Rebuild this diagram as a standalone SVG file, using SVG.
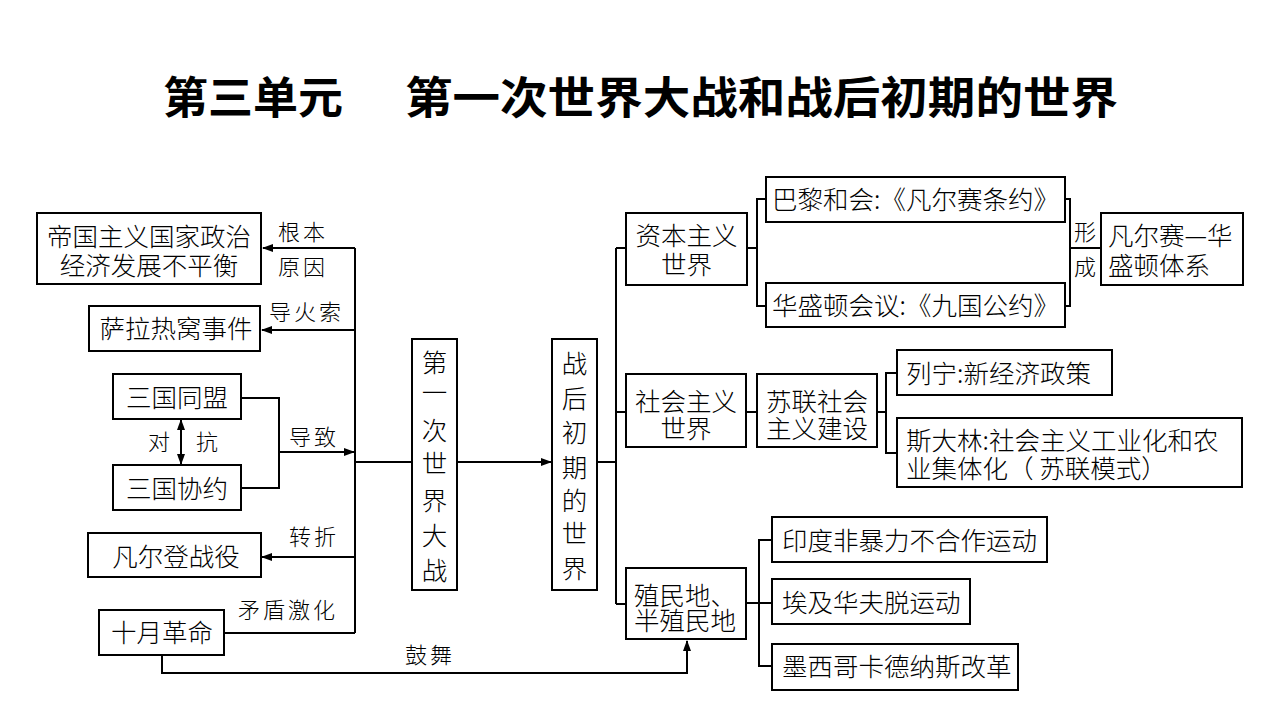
<svg xmlns="http://www.w3.org/2000/svg" width="1280" height="720" viewBox="0 0 1280 720">
<style>
.box{fill:#fff;stroke:#000;stroke-width:2}
.t{font-family:"Noto Sans CJK SC","Noto Sans CJK JP",sans-serif;font-size:25.5px;fill:#000;font-weight:300}
.c{text-anchor:middle}
.lb{font-family:"Noto Sans CJK SC","Noto Sans CJK JP",sans-serif;font-size:22px;fill:#000;letter-spacing:3px;font-weight:300}
.ln{fill:none;stroke:#000;stroke-width:2}
.title{font-family:"Noto Sans CJK SC","Noto Sans CJK JP",sans-serif;font-size:44.5px;font-weight:700;fill:#000}
</style>
<defs>
<marker id="ah" markerUnits="userSpaceOnUse" markerWidth="11" markerHeight="8" refX="10" refY="4" orient="auto-start-reverse">
<path d="M0,0 L11,4 L0,8 z" fill="#000"/>
</marker>
</defs>
<rect width="1280" height="720" fill="#fff"/>
<g id="title">
<text class="title" x="163" y="114" textLength="180" lengthAdjust="spacingAndGlyphs">第三单元</text>
<text class="title" x="405" y="114" textLength="713" lengthAdjust="spacingAndGlyphs">第一次世界大战和战后初期的世界</text>
</g>
<g id="connectors">
<path class="ln" d="M355,248 L355,633"/>
<path class="ln" d="M355,248 L263,248" marker-end="url(#ah)"/>
<path class="ln" d="M355,330 L262,330" marker-end="url(#ah)"/>
<path class="ln" d="M355,557 L262,557" marker-end="url(#ah)"/>
<path class="ln" d="M224,633 L355,633"/>
<path class="ln" d="M241,398 L279,398 L279,488 L241,488"/>
<path class="ln" d="M279,452 L354,452" marker-end="url(#ah)"/>
<path class="ln" d="M181,420 L181,464" marker-start="url(#ah)" marker-end="url(#ah)"/>
<path class="ln" d="M355,462 L412,462"/>
<path class="ln" d="M457,462 L551,462" marker-end="url(#ah)"/>
<path class="ln" d="M597,462 L616,462"/>
<path class="ln" d="M616,248 L616,604"/>
<path class="ln" d="M616,248 L626,248 M616,412 L626,412 M616,604 L626,604"/>
<path class="ln" d="M747,248 L757,248 M766,199 L757,199 L757,306 L766,306"/>
<path class="ln" d="M1065,199 L1070,199 L1070,306 L1065,306 M1070,248 L1101,248"/>
<path class="ln" d="M746,412 L757,412"/>
<path class="ln" d="M877,412 L886,412 M897,373 L886,373 L886,453 L897,453"/>
<path class="ln" d="M746,603 L759,603 M772,540 L759,540 L759,666 L772,666 M759,603 L772,603"/>
<path class="ln" d="M162,655 L162,673 L687,673 L687,641" marker-end="url(#ah)"/>
</g>
<g id="labels">
<text class="lb" x="278" y="240">根本<tspan x="278" y="275">原因</tspan></text>
<text class="lb" x="269" y="320">导火索</text>
<text class="lb" x="289" y="445">导致</text>
<text class="lb" x="148" y="450">对</text>
<text class="lb" x="196" y="450">抗</text>
<text class="lb" x="289" y="545">转折</text>
<text class="lb" x="238" y="618">矛盾激化</text>
<text class="lb" x="405" y="663">鼓舞</text>
<text class="lb" x="1074" y="240">形<tspan x="1074" y="275">成</tspan></text>
</g>
<g id="n-imbalance">
<rect class="box" x="37" y="213" width="224" height="71"/>
<text class="t c" x="149" y="246">帝国主义国家政治<tspan x="149" y="275">经济发展不平衡</tspan></text>
</g>
<g id="n-sarajevo">
<rect class="box" x="89" y="306" width="171" height="45"/>
<text class="t c" x="176" y="338">萨拉热窝事件</text>
</g>
<g id="n-triple-alliance">
<rect class="box" x="113" y="374" width="128" height="45"/>
<text class="t c" x="177" y="407">三国同盟</text>
</g>
<g id="n-triple-entente">
<rect class="box" x="113" y="465" width="128" height="45"/>
<text class="t c" x="177" y="498">三国协约</text>
</g>
<g id="n-verdun">
<rect class="box" x="88" y="533" width="173" height="44"/>
<text class="t c" x="176" y="566">凡尔登战役</text>
</g>
<g id="n-october">
<rect class="box" x="99" y="610" width="125" height="45"/>
<text class="t c" x="162" y="642">十月革命</text>
</g>
<g id="n-ww1">
<rect class="box" x="412" y="339" width="45" height="251"/>
<text class="t c" x="434.5" y="372">第<tspan x="434.5" y="402">一</tspan><tspan x="434.5" y="440">次</tspan><tspan x="434.5" y="473">世</tspan><tspan x="434.5" y="510">界</tspan><tspan x="434.5" y="545">大</tspan><tspan x="434.5" y="580">战</tspan></text>
</g>
<g id="n-postwar">
<rect class="box" x="552" y="339" width="45" height="251"/>
<text class="t c" x="574.5" y="373">战<tspan x="574.5" y="408">后</tspan><tspan x="574.5" y="442">初</tspan><tspan x="574.5" y="477">期</tspan><tspan x="574.5" y="510">的</tspan><tspan x="574.5" y="543">世</tspan><tspan x="574.5" y="578">界</tspan></text>
</g>
<g id="n-capitalist">
<rect class="box" x="626" y="213" width="121" height="72"/>
<text class="t c" x="686.5" y="245">资本主义<tspan x="686.5" y="274">世界</tspan></text>
</g>
<g id="n-paris">
<rect class="box" x="766" y="177" width="299" height="45"/>
<text class="t c" x="915.5" y="209">巴黎和会:《凡尔赛条约》</text>
</g>
<g id="n-washington">
<rect class="box" x="766" y="283" width="299" height="44"/>
<text class="t c" x="915.5" y="315">华盛顿会议:《九国公约》</text>
</g>
<g id="n-vw-system">
<rect class="box" x="1101" y="213" width="142" height="72"/>
<text class="t" x="1108" y="245">凡尔赛—华<tspan x="1108" y="275">盛顿体系</tspan></text>
</g>
<g id="n-socialist">
<rect class="box" x="626" y="374" width="120" height="73"/>
<text class="t c" x="686" y="411">社会主义<tspan x="686" y="438">世界</tspan></text>
</g>
<g id="n-soviet">
<rect class="box" x="757" y="374" width="120" height="73"/>
<text class="t c" x="817" y="411">苏联社会<tspan x="817" y="438">主义建设</tspan></text>
</g>
<g id="n-lenin">
<rect class="box" x="897" y="350" width="215" height="45"/>
<text class="t" x="906" y="383">列宁:新经济政策</text>
</g>
<g id="n-stalin">
<rect class="box" x="897" y="418" width="345" height="69"/>
<text class="t" x="906" y="450">斯大林:社会主义工业化和农<tspan x="906" y="478">业集体化（ 苏联模式）</tspan></text>
</g>
<g id="n-colonial">
<rect class="box" x="626" y="568" width="120" height="71"/>
<text class="t" x="634" y="605">殖民地、<tspan x="634" y="630">半殖民地</tspan></text>
</g>
<g id="n-india">
<rect class="box" x="772" y="517" width="275" height="45"/>
<text class="t" x="782" y="550">印度非暴力不合作运动</text>
</g>
<g id="n-egypt">
<rect class="box" x="772" y="579" width="198" height="45"/>
<text class="t" x="782" y="612">埃及华夫脱运动</text>
</g>
<g id="n-mexico">
<rect class="box" x="772" y="644" width="246" height="46"/>
<text class="t" x="782" y="676">墨西哥卡德纳斯改革</text>
</g>
</svg>
